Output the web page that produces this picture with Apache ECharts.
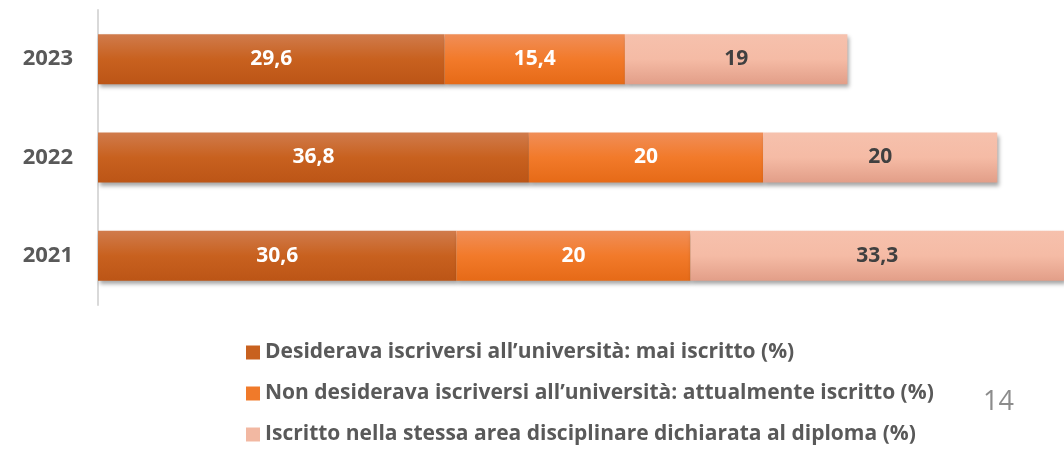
<!DOCTYPE html>
<html>
<head>
<meta charset="utf-8">
<script src="https://cdn.jsdelivr.net/npm/echarts@6/dist/echarts.min.js"></script>
<style>
  html, body { margin: 0; padding: 0; background: #fff; }
  #chart { width: 1064px; height: 449px; }
</style>
</head>
<body>
<div id="chart"></div>
<script>
// dati
const years = ['2023', '2022', '2021'];
const maiIscritto = [29.6, 36.8, 30.6];
const attualmenteIscritto = [15.4, 20, 20];
const stessaArea = [19, 20, 33.3];
const seriesNames = [
  'Desiderava iscriversi all\u2019università: mai iscritto (%)',
  'Non desiderava iscriversi all\u2019università: attualmente iscritto (%)',
  'Iscritto nella stessa area disciplinare dichiarata al diploma (%)'
];

const myChart = echarts.init(document.getElementById('chart'));
const font = '"Open Sans", Lato, sans-serif';

function grad(top, mid, bottom) {
  return new echarts.graphic.LinearGradient(0, 0, 0, 1, [
    { offset: 0, color: top },
    { offset: 0.5, color: mid },
    { offset: 1, color: bottom }
  ]);
}

function makeSeries(name, data, color, labelColor) {
  return {
    name: name,
    type: 'bar',
    stack: 'tot',
    data: data,
    barWidth: 50,
    itemStyle: {
      color: color,
      shadowColor: 'rgba(0,0,0,0.35)',
      shadowBlur: 4,
      shadowOffsetX: 2,
      shadowOffsetY: 3
    },
    label: {
      show: true,
      position: 'inside',
      color: labelColor,
      fontFamily: font,
      fontWeight: 'bold',
      fontSize: 21,
      formatter: p => String(p.value).replace('.', ',')
    }
  };
}

myChart.setOption({
  animation: false,
  // la barra del 2021 esce dal bordo destro come nell'originale
  grid: { left: 98, right: 0, top: 10, height: 295 },
  xAxis: {
    type: 'value',
    min: 0,
    max: 82.5,
    show: false
  },
  yAxis: {
    type: 'category',
    data: years,
    inverse: true,
    axisLine: { show: true, lineStyle: { color: '#D9D9D9', width: 2 } },
    axisTick: { show: false },
    axisLabel: {
      color: '#595959',
      fontFamily: font,
      fontWeight: 'bold',
      fontSize: 22,
      margin: 25
    }
  },
  legend: {
    orient: 'vertical',
    left: 246,
    top: 342,
    height: 107,
    padding: 0,
    itemWidth: 14,
    itemHeight: 14,
    itemGap: 20,
    icon: 'rect',
    textStyle: {
      color: '#595959',
      fontFamily: font,
      fontWeight: 'bold',
      fontSize: 21
    },
    data: [
      { name: seriesNames[0], itemStyle: { color: '#C8611F' } },
      { name: seriesNames[1], itemStyle: { color: '#F07A2A' } },
      { name: seriesNames[2], itemStyle: { color: '#F2B8A2' } }
    ]
  },
  graphic: [{
    type: 'text',
    left: 983,
    top: 389,
    style: { text: '14', fill: '#8C8C8C', font: '27px ' + font }
  }],
  series: [
    makeSeries(seriesNames[0], maiIscritto, grad('#D07B4C', '#C8611F', '#BC5516'), '#fff'),
    makeSeries(seriesNames[1], attualmenteIscritto, grad('#F08E58', '#F27A2A', '#E66A17'), '#fff'),
    makeSeries(seriesNames[2], stessaArea, grad('#F6C1AD', '#F5BBA5', '#E29E88'), '#404040')
  ]
});
</script>
</body>
</html>
